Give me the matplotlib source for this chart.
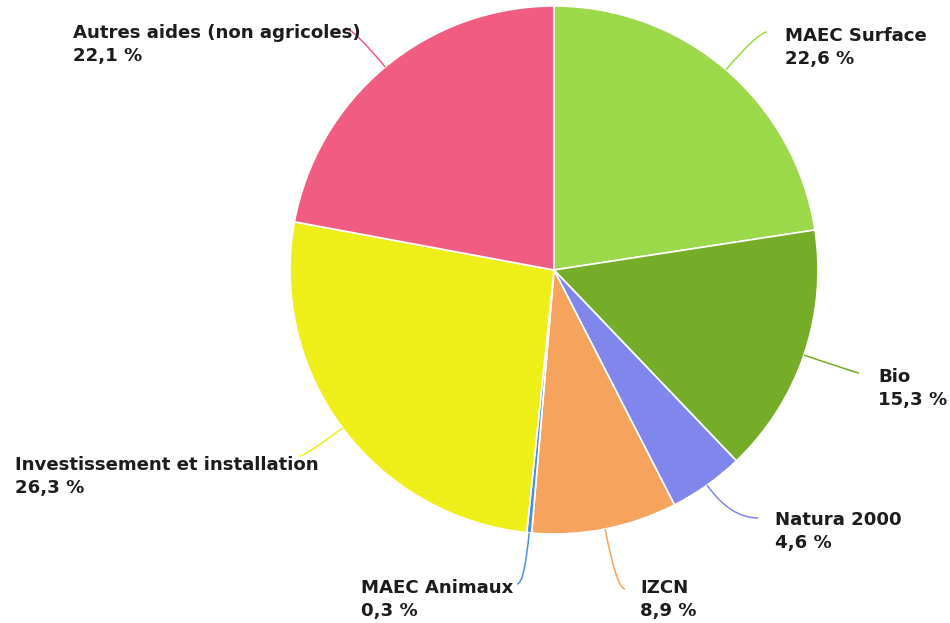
import numpy as np
import matplotlib
matplotlib.use("Agg")
import matplotlib.pyplot as plt
from matplotlib.path import Path
from matplotlib.patches import PathPatch

plt.rcParams['font.family'] = ['DejaVu Sans']

# Data (clockwise from 12 o'clock)
labels = ["MAEC Surface", "Bio", "Natura 2000", "IZCN", "MAEC Animaux",
          "Investissement et installation", "Autres aides (non agricoles)"]
values = [22.6, 15.3, 4.6, 8.9, 0.3, 26.3, 22.1]
colors = ["#9bd94a", "#75ad29", "#8087ec", "#f6a35d", "#4a90e2",
          "#eeee19", "#f05c82"]

W, H = 950, 623
cx, cy, R = 554, 270, 264  # pixel coords (y down)

# label layout: text left x, first-line baseline y, leader end point (pixels)
label_pos = [(785, 41), (878, 382), (775, 525), (640, 593), (361, 593),
             (15, 470), (73, 38)]
line_end = [(767, 32), (859, 373), (758, 518), (625, 589), (517, 584),
            (300, 456), (345, 28)]

fig = plt.figure(figsize=(W / 100, H / 100), dpi=100)
ax = fig.add_axes([0, 0, 1, 1])

ax.pie(values, colors=colors, startangle=90, counterclock=False,
       radius=R, center=(cx, H - cy),
       wedgeprops=dict(edgecolor="white", linewidth=1.2))
ax.set_xlim(0, W)
ax.set_ylim(0, H)
ax.set_aspect("equal")
ax.axis("off")

font = dict(family="DejaVu Sans", size=13.1, weight="bold")

total = sum(values)
cum = 0
for lab, v, col, (tx, ty), (ex, ey) in zip(labels, values, colors,
                                           label_pos, line_end):
    mid = (cum + v / 2) / total * 2 * np.pi
    cum += v
    dx, dy = np.sin(mid), -np.cos(mid)  # screen direction (y down)
    sx, sy = cx + R * dx, cy + R * dy
    t = (ey - sy) / dy
    kx, ky = sx + t * dx, ey
    verts = [(sx, H - sy), (kx, H - ky), (ex, H - ey)]
    path = Path(verts, [Path.MOVETO, Path.CURVE3, Path.CURVE3])
    ax.add_patch(PathPatch(path, facecolor="none", edgecolor=col, lw=1.1))
    ax.text(tx, H - ty, lab, fontdict=font, color="#1c1c1c",
            va="baseline", ha="left")
    ax.text(tx, H - ty - 23, ("%.1f %%" % v).replace(".", ","),
            fontdict=font, color="#1c1c1c", va="baseline", ha="left")

fig.savefig("out.png", dpi=100, facecolor="white")
